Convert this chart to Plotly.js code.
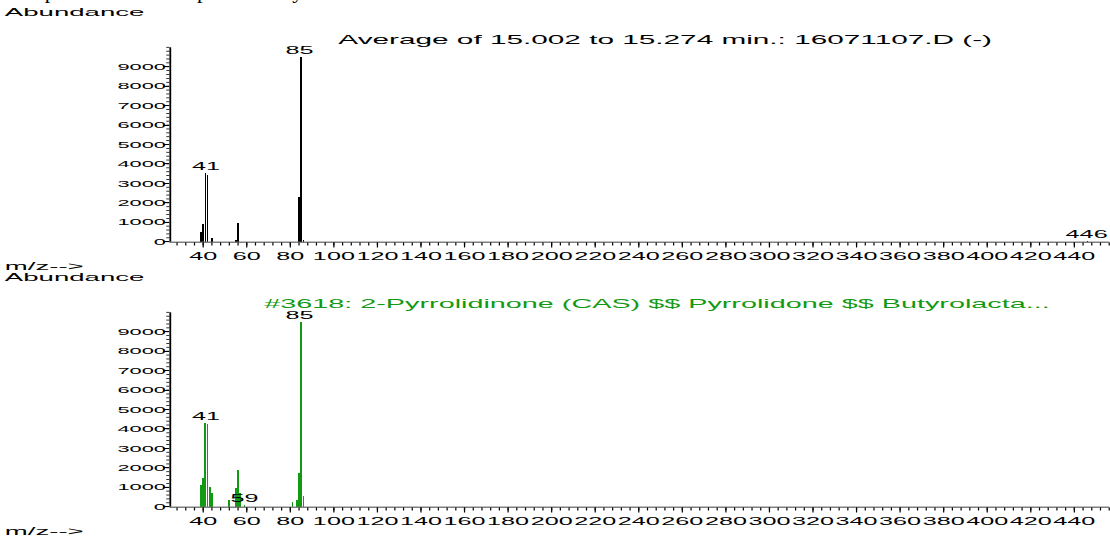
<!DOCTYPE html>
<html>
<head>
<meta charset="utf-8">
<script src="https://cdn.plot.ly/plotly-3.0.1.min.js"></script>
<style>
  html, body { margin: 0; padding: 0; width: 1110px; height: 537px; overflow: hidden; background: #fff; }
  #caption {
    position: absolute; left: 2px; top: -20px; z-index: 2;
    font: 22px/22px "Liberation Serif", "Times New Roman", serif;
    color: #000; white-space: nowrap;
  }
  /* the instrument printout is laid out narrow and widened horizontally */
  #chart {
    position: absolute; left: 0; top: 0;
    width: 462.5px; height: 537px;
    transform: scaleX(2.4); transform-origin: 0 0;
  }
</style>
</head>
<body>
<div id="caption">Comparison of mass spectra of Pyrrolidinone and its standards</div>
<div id="chart"></div>
<script>
// Sample spectrum (averaged scan)
const sampleMz  = [39, 40, 41, 42, 44, 55, 56, 84, 85, 86, 446];
const sampleAbn = [520, 930, 3530, 3430, 175, 80, 950, 2280, 9520, 100, 60];
const sampleLabeled = [41, 85, 446];

// Library reference spectrum
const libMz  = [39, 40, 41, 42, 43, 44, 52, 55, 56, 57, 59, 81, 83, 84, 85, 86];
const libAbn = [1120, 1490, 4320, 4240, 1030, 690, 340, 960, 1890, 690, 80, 240, 340, 1730, 9520, 570];
const libLabeled = [41, 59, 85];

const yTickVals = [0, 1000, 2000, 3000, 4000, 5000, 6000, 7000, 8000, 9000];
const xTickVals = [40, 60, 80, 100, 120, 140, 160, 180, 200, 220, 240, 260, 280, 300, 320, 340, 360, 380, 400, 420, 440];

const sampleTitle = 'Average of 15.002 to 15.274 min.: 16071107.D (-)';
const libTitle = '#3618: 2-Pyrrolidinone (CAS) $$ Pyrrolidone $$ Butyrolacta...';

const FONT = 'Liberation Sans, Arial, sans-serif';
const GREEN = '#139a13';
const FULL_W = 1110, FULL_H = 537;

function xAxis(anchor) {
  return {
    anchor: anchor, domain: [171 / FULL_W, 1108 / FULL_W], range: [25.3, 456],
    showgrid: false, zeroline: false, showline: true, linecolor: '#000', linewidth: 0.8,
    tickmode: 'array', tickvals: xTickVals, ticktext: xTickVals.map(String),
    ticks: 'outside', ticklen: 5, tickwidth: 0.5, tickcolor: '#000', tickangle: 0,
    tickfont: { family: FONT, size: 10.5, color: '#000' },
    minor: { tickmode: 'linear', tick0: 0, dtick: 4, ticks: 'outside', ticklen: 3, tickwidth: 0.5, tickcolor: '#000' }
  };
}
function yAxis(anchor, top, bottom) {
  return {
    anchor: anchor, domain: [(FULL_H - bottom) / FULL_H, (FULL_H - top) / FULL_H], range: [0, 10000],
    showgrid: false, zeroline: false, showline: true, linecolor: '#000', linewidth: 0.75,
    tickmode: 'array', tickvals: yTickVals, ticktext: yTickVals.map(String),
    ticks: 'outside', ticklen: 2.6, tickwidth: 1, tickcolor: '#000',
    ticklabelstandoff: -3,
    tickfont: { family: FONT, size: 9.1, color: '#000' },
    minor: { tickmode: 'linear', tick0: 0, dtick: 200, ticks: 'outside', ticklen: 1.3, tickwidth: 0.8, tickcolor: '#000' }
  };
}

const traces = [
  { type: 'bar', x: sampleMz, y: sampleAbn, width: 0.75, xaxis: 'x', yaxis: 'y',
    marker: { color: '#000', line: { width: 0 } }, hoverinfo: 'x+y' },
  { type: 'bar', x: libMz, y: libAbn, width: 0.8, xaxis: 'x2', yaxis: 'y2',
    marker: { color: GREEN, line: { width: 0 } }, hoverinfo: 'x+y' }
];

function peakLabels(mzList, abnList, labeled, xref, yref) {
  return labeled.map(mz => ({
    x: mz, y: abnList[mzList.indexOf(mz)], xref: xref, yref: yref,
    text: String(mz), showarrow: false, xanchor: 'center', yanchor: 'bottom', yshift: -1,
    font: { family: FONT, size: 10.5, color: '#000' }
  }));
}
function paperText(text, px, py, size, color) {
  return {
    x: px / FULL_W, y: 1 - py / FULL_H, xref: 'paper', yref: 'paper',
    text: text, showarrow: false, xanchor: 'left', yanchor: 'middle',
    font: { family: FONT, size: size, color: color }
  };
}

const annotations = [
  paperText('Abundance', 1, 12.5, 11.5, '#000'),
  paperText('m/z-->', 1, 265.5, 11.5, '#000'),
  paperText('Abundance', 1, 276.5, 11.5, '#000'),
  paperText('m/z-->', 1, 531, 11.5, '#000'),
  paperText(sampleTitle, 334, 40, 12.4, '#000'),
  paperText(libTitle, 260, 304, 12, GREEN)
].concat(
  peakLabels(sampleMz, sampleAbn, sampleLabeled, 'x', 'y'),
  peakLabels(libMz, libAbn, libLabeled, 'x2', 'y2')
);

const layout = {
  width: 462.5, height: FULL_H,
  margin: { l: 0, r: 0, t: 0, b: 0 },
  paper_bgcolor: 'rgba(0,0,0,0)', plot_bgcolor: 'rgba(0,0,0,0)',
  showlegend: false, bargap: 0,
  xaxis: xAxis('y'), yaxis: yAxis('x', 47.3, 241.7),
  xaxis2: xAxis('y2'), yaxis2: yAxis('x2', 312.3, 506.7),
  annotations: annotations
};

Plotly.newPlot('chart', traces, layout, { displayModeBar: false, staticPlot: true });
</script>
</body>
</html>
